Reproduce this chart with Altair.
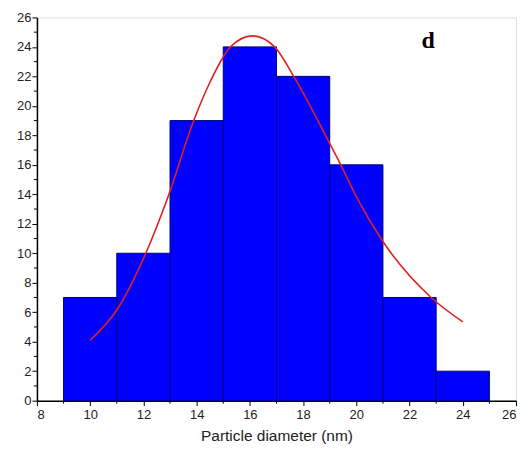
import altair as alt
import pandas as pd

# Histogram bins (nm) and counts
bin_start = [9, 11, 13, 15, 17, 19, 21, 23]
bin_end = [11, 13, 15, 17, 19, 21, 23, 25]
counts = [7, 10, 19, 24, 22, 16, 7, 2]

# Fitted distribution curve
curve_x = [10.0, 11.0, 12.09, 12.93, 13.87, 14.5, 15.27, 16.09, 16.93, 17.68, 19.0, 19.43, 20.0, 21.0, 22.81, 24.0]
curve_y = [4.1, 6.15, 10.0, 13.85, 18.9, 21.6, 24.0, 24.75, 24.0, 21.9, 17.45, 15.95, 13.85, 10.8, 7.0, 5.35]

x_major = list(range(8, 27, 2))
y_major = list(range(0, 27, 2))
x_minor = list(range(9, 26, 2))
y_minor = list(range(1, 26, 2))

W, H = 480, 384

bars_df = pd.DataFrame({"start": bin_start, "end": bin_end, "count": counts})
curve_df = pd.DataFrame({"x": curve_x, "y": curve_y})

xscale = alt.Scale(domain=[8, 26], nice=False, zero=False)
yscale = alt.Scale(domain=[0, 26], nice=False)

label_font = "Liberation Sans"

xaxis = alt.Axis(values=x_major, grid=False, domainColor="#000",
                 domainWidth=1.5, tickColor="#000", tickSize=5,
                 tickWidth=1, labelFont=label_font, labelFontSize=13,
                 labelColor="#222", labelPadding=3, labelOverlap=False,
                 titleFont=label_font, titleFontSize=15.5,
                 titleFontWeight="normal", titleColor="#222",
                 titlePadding=7)
yaxis = alt.Axis(values=y_major, grid=False, domainColor="#000",
                 domainWidth=1.5, tickColor="#000", tickSize=5,
                 tickWidth=1, labelFont=label_font, labelFontSize=13,
                 labelColor="#222", labelPadding=1, labelOverlap=False)
xtitle = "Particle diameter (nm)"

bars = alt.Chart(bars_df).mark_bar(
    color="#0000FF", stroke="#000080", strokeWidth=1
).encode(
    x=alt.X("start:Q", scale=xscale, title=xtitle, axis=xaxis),
    x2="end:Q",
    y=alt.Y("count:Q", scale=yscale, title=None, axis=yaxis),
    y2=alt.datum(0),
)

curve = alt.Chart(curve_df).mark_line(
    color="#E02020", strokeWidth=1.6, interpolate="monotone"
).encode(
    x=alt.X("x:Q", scale=xscale, title=xtitle, axis=xaxis),
    y=alt.Y("y:Q", scale=yscale, title=None, axis=yaxis),
)

xminor = alt.Chart(pd.DataFrame({"v": x_minor})).mark_rule(
    color="#000", strokeWidth=1, clip=False
).encode(
    x=alt.X("v:Q", scale=xscale, title=xtitle, axis=xaxis),
    y=alt.value(H),
    y2=alt.value(H + 3),
)

yminor = alt.Chart(pd.DataFrame({"v": y_minor})).mark_rule(
    color="#000", strokeWidth=1, clip=False
).encode(
    y=alt.Y("v:Q", scale=yscale, title=None, axis=yaxis),
    x=alt.value(0),
    x2=alt.value(-3),
)

label = alt.Chart(pd.DataFrame({"t": ["d"]})).mark_text(
    font="Liberation Serif", fontSize=24, fontWeight="bold", color="#000",
    align="center", baseline="alphabetic"
).encode(
    text="t:N",
    x=alt.value(392),
    y=alt.value(31),
)

chart = alt.layer(bars, curve, xminor, yminor, label).properties(
    width=W, height=H,
    autosize=alt.AutoSizeParams(type="none"),
    padding={"left": 29, "top": 9, "right": 5, "bottom": 45},
).configure_view(stroke=None).configure(background="white")

chart.save("out.html", embed_options={"renderer": "svg", "actions": False})
